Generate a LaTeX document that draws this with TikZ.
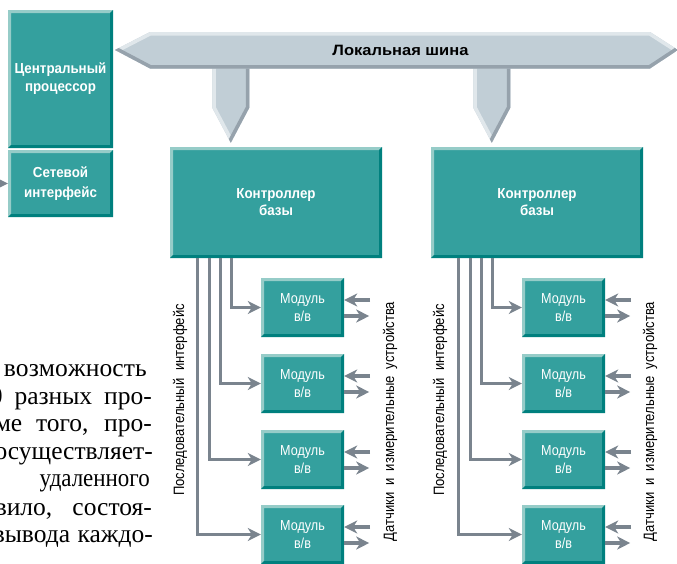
\documentclass[tikz,border=0pt]{standalone}
\usepackage{graphicx}
\usepackage{fontspec}
\setmainfont{Liberation Sans}
\newfontfamily\scanfont{Liberation Serif}
\newfontfamily\narrowsans{Liberation Sans}[FakeStretch=0.87]
\newfontfamily\boldnarrow{Liberation Sans}[FakeStretch=0.92]
\newfontfamily\widesans{Liberation Sans}[FakeStretch=1.1]
\usetikzlibrary{arrows.meta,calc}
\definecolor{tealmain}{RGB}{52,160,158}
\definecolor{teallight}{RGB}{150,204,200}
\definecolor{tealdark}{RGB}{0,128,126}
\definecolor{busmain}{RGB}{193,206,214}
\definecolor{buslight}{RGB}{224,231,235}
\definecolor{busdark}{RGB}{150,162,172}
\definecolor{conncol}{RGB}{122,132,142}
\begin{document}
\begin{tikzpicture}[x=1pt,y=-1pt,
  bev/.style={fill=tealmain, inner sep=0pt, text=white, align=center,
    path picture={
      \path (path picture bounding box.north west) coordinate (pNW)
            (path picture bounding box.north east) coordinate (pNE)
            (path picture bounding box.south east) coordinate (pSE)
            (path picture bounding box.south west) coordinate (pSW);
      \fill[teallight] (pNW) -- (pNE) -- ([shift={(-3pt,-3pt)}]pNE) -- ([shift={(3pt,-3pt)}]pNW)
                       -- ([shift={(3pt,3pt)}]pSW) -- (pSW) -- cycle;
      \fill[tealdark] (pSE) -- (pNE) -- ([shift={(-3pt,-3pt)}]pNE) -- ([shift={(-3pt,3pt)}]pSE)
                       -- ([shift={(3pt,3pt)}]pSW) -- (pSW) -- cycle;
    }},
  bigbox/.style={bev, font=\boldnarrow\bfseries\fontsize{14.5}{18}\selectfont},
  modbox/.style={bev, minimum width=83pt, minimum height=59pt, font=\narrowsans\fontsize{14.5}{18}\selectfont},
  conn/.style={draw=conncol, line width=3.3pt, -{Stealth[length=13pt,width=13pt,inset=4pt]}},
  vlab/.style={rotate=90, inner sep=0pt, font=\narrowsans\fontsize{15}{17}\selectfont},
  scan/.style={anchor=base east, inner sep=0pt, font=\scanfont\fontsize{25.5}{28}\selectfont}
]
\useasboundingbox (0,0) rectangle (677,563);
\clip (0,0) rectangle (677,563);
\fill[white] (0,0) rectangle (677,563);

% scanned page text (left margin, cut off by the picture edge as in the original)
\node[scan] (t1) at (147,376) {\makebox[143pt]{в\hfill о\hfill з\hfill м\hfill о\hfill ж\hfill н\hfill о\hfill с\hfill т\hfill ь}};
\node[scan] (t2) at (152,404) {\makebox[162pt][s]{0 разных про-}};
\node[scan] (t3) at (152,431) {\makebox[157pt][s]{ме того, про-}};
\node[scan] (t4) at (153,459) {осуществляет-};
\node[scan] (t5) at (150,486) {\scalebox{0.9}[1]{удаленного}};
\node[scan] (t6) at (152,515.5) {\makebox[157pt][s]{вило, состоя-}};
\node[scan] (t7) at (153,542.5) {\makebox[160pt][s]{вывода каждо-}};

% boxes
\node[bigbox, minimum width=105pt, minimum height=138pt] (cpu) at (60.5,79) {Центральный\\процессор};
\node[bigbox, minimum width=105pt, minimum height=67pt, font=\boldnarrow\bfseries\fontsize{14.5}{19.5}\selectfont] (net) at (60.5,183.5) {Сетевой\\интерфейс};
\node[bigbox, minimum width=212pt, minimum height=111pt, font=\boldnarrow\bfseries\fontsize{14.5}{17}\selectfont] (ctrlA) at (276,202.5) {Контроллер\\базы};
\node[bigbox, minimum width=212pt, minimum height=111pt, font=\boldnarrow\bfseries\fontsize{14.5}{17}\selectfont] (ctrlB) at (537,202.5) {Контроллер\\базы};

\foreach \c/\x in {A/302.5, B/563.5}{
  \node[modbox] (m\c1) at (\x,307.5) {Модуль\\в/в};
  \node[modbox] (m\c2) at (\x,383.5) {Модуль\\в/в};
  \node[modbox] (m\c3) at (\x,459.5) {Модуль\\в/в};
  \node[modbox] (m\c4) at (\x,534.5) {Модуль\\в/в};
}

% connectors from controllers to modules
\foreach \c in {A,B}{
  \draw[conn] ([xshift=62pt]ctrl\c.south west) |- (m\c1.west);
  \draw[conn] ([xshift=51pt]ctrl\c.south west) |- (m\c2.west);
  \draw[conn] ([xshift=39.5pt]ctrl\c.south west) |- (m\c3.west);
  \draw[conn] ([xshift=28pt]ctrl\c.south west) |- (m\c4.west);
  \foreach \k in {1,2,3,4}{
    \draw[conn] ([shift={(26pt,7.5pt)}]m\c\k.east) -- ([yshift=7.5pt]m\c\k.east);
    \draw[conn] ([yshift=-8.5pt]m\c\k.east) -- ([shift={(25pt,-8.5pt)}]m\c\k.east);
  }
}

% network input
\coordinate (netsrc) at (-40,183.5);
\draw[conn] (netsrc) -- (net.west);

% vertical labels
\node[vlab] (serA) at (180,400) {Последовательный\hspace{8pt}интерфейс};
\node[vlab] (serB) at (440,400) {Последовательный\hspace{8pt}интерфейс};
\node[vlab] (devA) at (390,421.5) {Датчики\hspace{7pt}и\hspace{7pt}измерительные\hspace{7pt}устройства};
\node[vlab] (devB) at (650,421.5) {Датчики\hspace{7pt}и\hspace{7pt}измерительные\hspace{7pt}устройства};

% drops from bus
\foreach \c in {A,B}{
  \begin{scope}[shift={($(ctrl\c.north west)+(61,-4)$)}]
    \begin{scope}
      \clip (-18.5,-78) -- (-18.5,-35) -- (0,0) -- (18.5,-35) -- (18.5,-78) -- cycle;
      \fill[busmain] (-20,-80) rectangle (20,1);
      \draw[buslight, line width=7pt] (-18.5,-78) -- (-18.5,-35) -- (0,0);
      \draw[busdark, line width=7pt] (18.5,-78) -- (18.5,-35) -- (0,0);
    \end{scope}
  \end{scope}
}

% bus
\begin{scope}
  \clip (115,50) -- (150,32) -- (650,32) -- (678,50) -- (650,68.5) -- (150,68.5) -- cycle;
  \fill[busmain] (100,20) rectangle (680,80);
  \draw[buslight, line width=7pt] (115,50) -- (150,32) -- (650,32) -- (678,50);
  \draw[busdark, line width=7pt] (115,50) -- (150,68.5) -- (650,68.5) -- (678,50);
\end{scope}
\node[font=\widesans\bfseries\fontsize{15}{17}\selectfont, inner sep=0pt] (bus) at (400.5,50) {Локальная шина};
\end{tikzpicture}
\end{document}
